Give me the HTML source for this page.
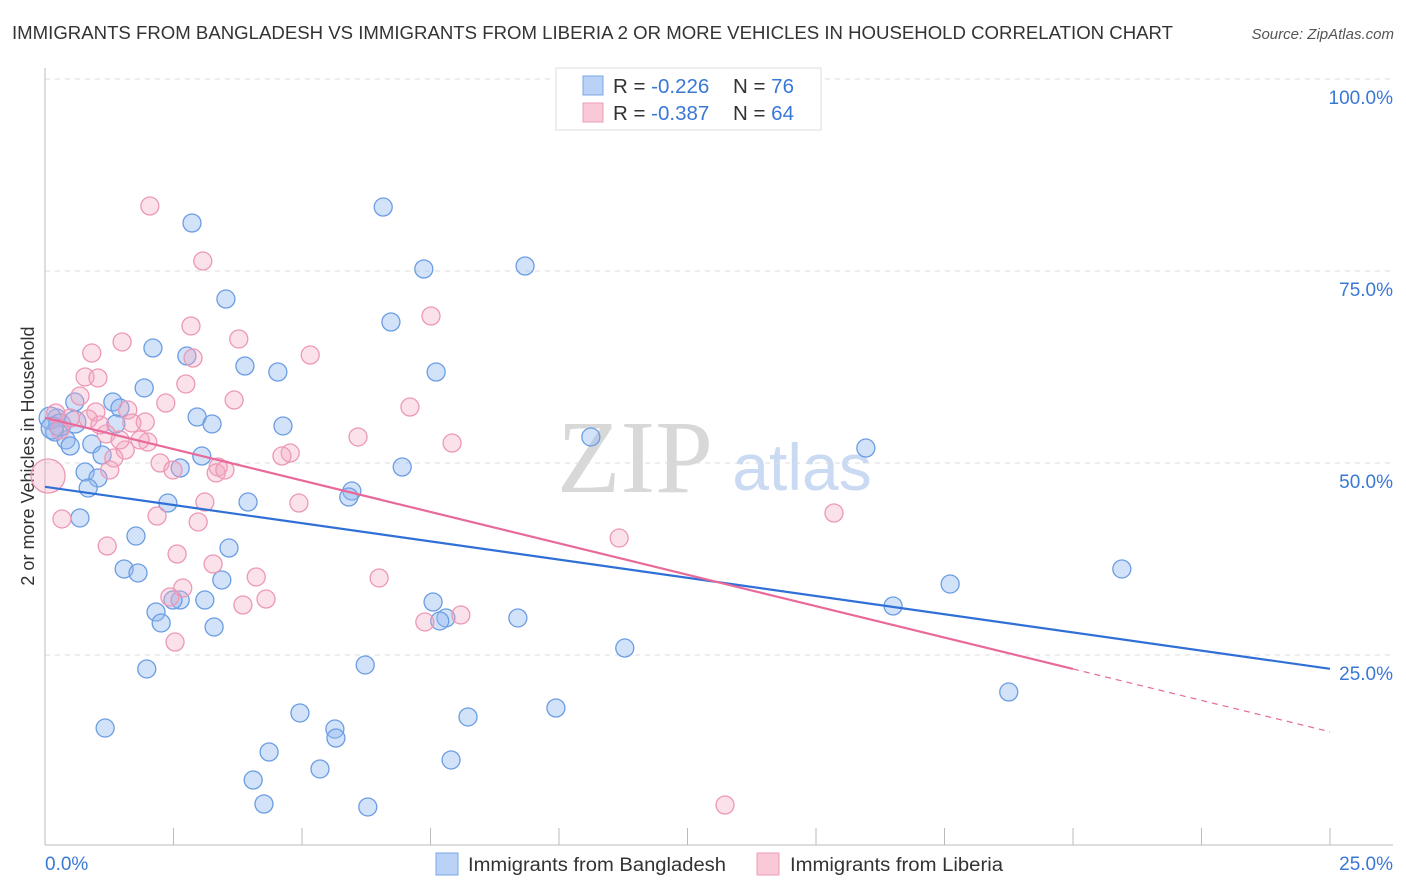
<!DOCTYPE html>
<html><head><meta charset="utf-8"><style>
body{margin:0;background:#fff;font-family:"Liberation Sans",sans-serif;}
svg{display:block}
</style></head><body>
<svg id="chart" width="1406" height="892">
<text x="12" y="39" font-size="18" textLength="1161" lengthAdjust="spacingAndGlyphs" fill="#333">IMMIGRANTS FROM BANGLADESH VS IMMIGRANTS FROM LIBERIA 2 OR MORE VEHICLES IN HOUSEHOLD CORRELATION CHART</text>
<text x="1394" y="39" font-size="15" fill="#555" font-style="italic" text-anchor="end">Source: ZipAtlas.com</text>
<text x="635" y="492" font-size="104" fill="#d8d8d8" font-family="Liberation Serif,serif" text-anchor="middle">ZIP</text>
<text x="802" y="490" font-size="66" fill="#c9daf2" text-anchor="middle">atlas</text>
<text transform="translate(34,456) rotate(-90)" font-size="18" fill="#333" text-anchor="middle">2 or more Vehicles in Household</text>
<g id="grid"></g><g id="axes"></g><g id="pts"></g><g id="lines"></g>
<g>
<rect x="556" y="68" width="265" height="62" fill="#fff" stroke="#ddd"/>
<rect x="583" y="76" width="20" height="19" fill="#b9d2f5" stroke="#7aa7e6"/>
<rect x="583" y="103" width="20" height="19" fill="#fac9d8" stroke="#ef9db9"/>
<text x="613" y="93" font-size="20.5" fill="#333">R = <tspan fill="#3a78d6">-0.226</tspan><tspan x="733">N = </tspan><tspan fill="#3a78d6">76</tspan></text>
<text x="613" y="120" font-size="20.5" fill="#333">R = <tspan fill="#3a78d6">-0.387</tspan><tspan x="733">N = </tspan><tspan fill="#3a78d6">64</tspan></text>
</g>
<g><rect x="436" y="853" width="22" height="22" fill="#b9d2f5" stroke="#7aa7e6"/><text x="468" y="871" font-size="19" textLength="258" lengthAdjust="spacingAndGlyphs" fill="#333">Immigrants from Bangladesh</text></g>
<g><rect x="757" y="853" width="22" height="22" fill="#fac9d8" stroke="#ef9db9"/><text x="790" y="871" font-size="19" textLength="213" lengthAdjust="spacingAndGlyphs" fill="#333">Immigrants from Liberia</text></g>
</svg>
<script>
const yTicks=[25,50,75,100];
const yTickLabels=["25.0%","50.0%","75.0%","100.0%"];
const xTickLabels=["0.0%","25.0%"];
const blueX=[2.86,6.58,3.52,7.37,9.34,6.73,2.10,2.76,3.89,4.53,7.61,1.93,0.58,1.32,1.46,2.96,3.25,4.63,0.23,1.38,0.19,0.41,0.49,0.91,1.11,10.62,15.97,3.05,2.63,6.95,0.78,1.03,0.84,2.39,3.95,5.97,5.91,0.68,1.77,3.58,1.54,1.81,3.44,2.63,3.11,2.49,2.16,2.26,3.29,7.55,7.80,7.68,9.20,16.50,17.61,20.95,11.28,1.98,6.23,1.17,4.96,5.64,5.66,8.23,9.94,18.75,4.36,5.35,7.90,4.05,4.26,6.28,0.10,0.29,0.14,0.58];
const blueY=[81.25,83.33,71.35,75.26,75.65,68.36,64.97,63.93,62.63,61.85,61.85,59.77,57.94,57.94,57.16,55.99,55.08,54.82,55.86,55.08,54.04,53.00,52.21,52.47,51.04,53.39,51.95,50.91,49.35,49.48,48.83,48.05,46.74,44.79,44.92,46.35,45.57,42.84,40.49,38.93,36.20,35.68,34.77,32.16,32.16,32.16,30.60,29.17,28.65,31.90,29.82,29.43,29.82,31.38,34.24,36.20,25.91,23.18,23.70,15.49,17.45,15.36,14.19,16.93,18.10,20.18,12.37,10.16,11.33,8.72,5.60,5.21,55.86,54.95,54.56,55.34];
const pinkX=[2.04,3.07,2.84,7.51,3.77,1.50,0.91,5.16,2.88,0.78,1.03,2.74,0.68,3.68,7.10,2.35,0.99,1.61,0.21,1.95,0.84,0.49,1.69,6.09,7.92,1.19,2.00,4.77,4.61,1.56,1.34,2.24,3.37,3.33,2.49,0.06,0.33,2.18,2.98,1.21,2.57,3.11,4.94,15.35,11.17,3.27,4.11,6.50,2.68,2.43,4.30,3.85,8.09,7.39,2.53,13.23,1.07,1.46,0.29,1.85,1.26,3.50];
const pinkY=[83.46,76.30,67.84,69.14,66.15,65.76,64.32,64.06,63.67,61.20,61.07,60.29,58.72,58.20,57.29,57.81,56.64,56.90,56.51,55.34,55.73,55.86,55.21,53.39,52.60,53.78,52.73,51.30,50.91,51.69,50.65,50.00,49.48,48.70,49.09,48.31,42.71,43.10,42.32,39.19,38.15,44.92,44.79,43.49,40.23,36.85,35.16,35.03,33.72,32.55,32.29,31.51,30.21,29.30,26.69,5.47,54.95,53.00,54.30,53.00,49.09,49.09];
const blueTrend=[46.9,23.2];
const pinkTrend=[55.9,15.0];
const pinkSolidEnd=20;
const NS="http://www.w3.org/2000/svg";
function xs(v){return 45+v/25*1285;}
function ys(v){return 847-v*7.68;}
function mk(tag,attrs,parent){const e=document.createElementNS(NS,tag);for(const k in attrs)e.setAttribute(k,attrs[k]);document.getElementById(parent).appendChild(e);return e;}
yTicks.forEach((t,i)=>{
 const l=mk('line',{x1:45,x2:1393,y1:ys(t),y2:ys(t),stroke:'#ddd','stroke-dasharray':'5,5'},'grid');
 
 
 const tx=mk('text',{x:1393,y:ys(t)+25,'font-size':19,fill:'#3a78d6','text-anchor':'end'},'grid');
 tx.textContent=yTickLabels[i];
 
 
});
const ax=mk('line',{x1:45,x2:45,y1:68,y2:845,stroke:'#bbb'},'axes');


const bx=mk('line',{x1:45,x2:1393,y1:845,y2:845,stroke:'#bbb'},'axes');


for(let i=1;i<=10;i++){const t=mk('line',{x1:xs(i*2.5),x2:xs(i*2.5),y1:828,y2:845,stroke:'#bbb'},'axes');
 
 }
[[0,'start',45],[25,'end',1393]].forEach((a,i)=>{const t=mk('text',{x:a[2],y:870,'font-size':19,fill:'#3a78d6','text-anchor':a[1]},'axes');t.textContent=xTickLabels[i];
 
 });
blueX.forEach((x,i)=>{const c=mk('circle',{cx:xs(x),cy:ys(blueY[i]),r:(i>=72?11:9),fill:'rgba(147,187,240,0.42)',stroke:'#6b9de3','stroke-width':1.3},'pts');
 
 });
pinkX.forEach((x,i)=>{const c=mk('circle',{cx:xs(x),cy:ys(pinkY[i]),r:(i==35?17:9),fill:'rgba(244,170,195,0.35)',stroke:'#ec98b6','stroke-width':1.3},'pts');
 
 });
const bl=mk('line',{x1:xs(0),y1:ys(blueTrend[0]),x2:xs(25),y2:ys(blueTrend[1]),stroke:'#2f6fd6','stroke-width':2.2},'lines');


const pm=pinkTrend[0]+(pinkTrend[1]-pinkTrend[0])*pinkSolidEnd/25;
const pl=mk('line',{x1:xs(0),y1:ys(pinkTrend[0]),x2:xs(pinkSolidEnd),y2:ys(pm),stroke:'#e8699a','stroke-width':2.2},'lines');


const pd=mk('line',{x1:xs(pinkSolidEnd),y1:ys(pm),x2:xs(25),y2:ys(pinkTrend[1]),stroke:'#e8699a','stroke-width':1.2,'stroke-dasharray':'6,5'},'lines');


</script>
</body></html>
